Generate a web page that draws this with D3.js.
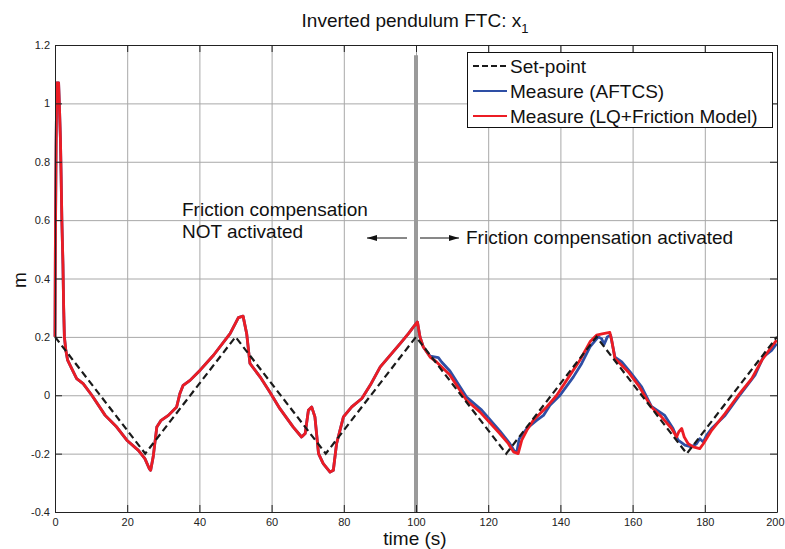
<!DOCTYPE html>
<html>
<head>
<meta charset="utf-8">
<script src="https://cdn.jsdelivr.net/npm/d3@7"></script>
<style>
  body { margin: 0; background: #fff; }
  text { font-family: "Liberation Sans", Arial, Helvetica, sans-serif; }
</style>
</head>
<body>
<div id="chart"></div>
<script>
// set-point triangle wave
var setT = [0, 25, 50, 75, 100, 125, 150, 175, 200];
var setV = [0.2, -0.2, 0.2, -0.2, 0.2, -0.2, 0.2, -0.2, 0.2];

// both measures overlap up to t = 100
var commonT = [0, 0.1, 0.3, 0.5, 1.0, 1.2, 1.5, 1.7, 1.9, 2.2, 2.4, 2.6, 3.0, 3.5, 4.4, 6.0, 7.8, 10.2, 13.9, 17.1, 19.9, 23.1, 24.9, 26.1, 26.5, 27.2, 28.2, 29.4, 31.4, 33.7, 34.6, 35.5, 37.4, 40.2, 43.9, 48.5, 50.8, 52.1, 53.1, 54.0, 56.8, 59.5, 62.3, 66.0, 68.3, 69.3, 70.2, 71.1, 72.0, 73.0, 74.3, 76.2, 77.1, 78.0, 79.9, 82.2, 85.0, 87.3, 90.1, 95.6, 97.9, 99.3, 100.4];
var commonV = [0.2, 0.5, 0.85, 1.07, 1.07, 1.0, 0.88, 0.75, 0.6, 0.45, 0.3, 0.2, 0.154, 0.12, 0.097, 0.057, 0.04, 0.0, -0.069, -0.109, -0.154, -0.189, -0.217, -0.251, -0.257, -0.211, -0.109, -0.086, -0.069, -0.04, 0.006, 0.034, 0.051, 0.086, 0.137, 0.211, 0.266, 0.271, 0.211, 0.109, 0.063, 0.011, -0.046, -0.109, -0.143, -0.131, -0.051, -0.04, -0.074, -0.2, -0.234, -0.263, -0.257, -0.166, -0.074, -0.04, -0.011, 0.034, 0.097, 0.177, 0.211, 0.234, 0.251];

// LQ + friction model after t = 100
var lqT = [101.1, 102.0, 103.9, 105.7, 109.4, 114.0, 117.7, 123.2, 125.6, 127.0, 128.3, 129.3, 130.7, 132.5, 136.2, 139.0, 141.7, 145.4, 148.2, 150.0, 151.9, 153.7, 154.2, 155.1, 156.5, 158.8, 161.6, 165.2, 168.0, 170.8, 172.2, 172.8, 173.6, 174.3, 175.4, 176.8, 178.6, 179.6, 181.9, 185.6, 189.3, 193.0, 195.8, 198.5, 199.9];
var lqV = [0.2, 0.166, 0.131, 0.114, 0.069, -0.017, -0.057, -0.131, -0.166, -0.194, -0.2, -0.154, -0.12, -0.086, -0.04, 0.0, 0.051, 0.12, 0.183, 0.206, 0.211, 0.215, 0.189, 0.126, 0.109, 0.08, 0.034, -0.04, -0.074, -0.114, -0.143, -0.125, -0.114, -0.143, -0.166, -0.177, -0.183, -0.166, -0.12, -0.063, 0.0, 0.057, 0.12, 0.166, 0.189];

// AFTCS after t = 100
var aftT = [101.1, 102.0, 103.9, 106.2, 107.1, 109.4, 114.0, 118.2, 123.2, 126.0, 127.4, 128.0, 128.6, 130.7, 133.4, 135.3, 137.1, 139.9, 143.6, 145.9, 148.2, 150.5, 151.4, 152.1, 153.0, 153.9, 155.1, 157.0, 159.3, 162.5, 165.2, 168.9, 171.2, 172.6, 174.5, 176.3, 177.7, 178.6, 179.6, 180.5, 181.9, 185.6, 189.3, 193.9, 196.2, 198.5, 199.9];
var aftV = [0.2, 0.166, 0.134, 0.129, 0.114, 0.083, -0.006, -0.051, -0.122, -0.166, -0.194, -0.189, -0.149, -0.114, -0.086, -0.069, -0.034, 0.0, 0.063, 0.109, 0.166, 0.2, 0.194, 0.174, 0.2, 0.206, 0.131, 0.114, 0.08, 0.029, -0.038, -0.069, -0.114, -0.154, -0.171, -0.177, -0.166, -0.149, -0.16, -0.137, -0.114, -0.069, -0.006, 0.069, 0.131, 0.154, 0.177];

var xTicks = [0, 20, 40, 60, 80, 100, 120, 140, 160, 180, 200];
var yTicks = [-0.4, -0.2, 0, 0.2, 0.4, 0.6, 0.8, 1, 1.2];
var switchT = 100, switchTop = 1.165;

var W = 785, H = 549;
var margin = {top: 45, right: 8, bottom: 37, left: 55},
    width = W - margin.left - margin.right,
    height = H - margin.top - margin.bottom;

var svg = d3.select("#chart").append("svg").attr("width", W).attr("height", H);
var g = svg.append("g").attr("transform", "translate(" + margin.left + "," + margin.top + ")");

var x = d3.scaleLinear().domain([0, 200]).range([0, width]);
var y = d3.scaleLinear().domain([-0.4, 1.2]).range([height, 0]);

// grid
g.append("g").attr("transform", "translate(0," + height + ")")
  .call(d3.axisBottom(x).tickValues(xTicks.slice(1, -1)).tickSize(-height).tickFormat(""))
  .call(function (s) { s.select(".domain").remove(); s.selectAll("line").attr("stroke", "#a8a8a8"); });
g.append("g")
  .call(d3.axisLeft(y).tickValues(yTicks.slice(1, -1)).tickSize(-width).tickFormat(""))
  .call(function (s) { s.select(".domain").remove(); s.selectAll("line").attr("stroke", "#a8a8a8"); });

// switch marker
g.append("line")
  .attr("x1", x(switchT)).attr("x2", x(switchT))
  .attr("y1", y(switchTop)).attr("y2", y(-0.4))
  .attr("stroke", "#9a9a9a").attr("stroke-width", 4);

var line = d3.line().x(function (d) { return x(d[0]); }).y(function (d) { return y(d[1]); });
function pts(ts, vs) { return ts.map(function (t, i) { return [t, vs[i]]; }); }

var common = pts(commonT, commonV);
g.append("path").datum(common.concat(pts(aftT, aftV)))
  .attr("d", line).attr("fill", "none").attr("stroke", "#2e4fa5").attr("stroke-width", 2.8)
  .attr("stroke-linejoin", "round");
g.append("path").datum(common.concat(pts(lqT, lqV)))
  .attr("d", line).attr("fill", "none").attr("stroke", "#ec1c24").attr("stroke-width", 2.8)
  .attr("stroke-linejoin", "round");
g.append("path").datum(pts(setT, setV))
  .attr("d", line).attr("fill", "none").attr("stroke", "#1a1a1a").attr("stroke-width", 2.2)
  .attr("stroke-dasharray", "7,4");

// axes (box with inward ticks)
function styleAxis(s) {
  s.select(".domain").attr("stroke", "#222");
  s.selectAll(".tick line").attr("stroke", "#222");
  s.selectAll("text").attr("fill", "#222").style("font-size", "11px");
}
var xAxisG = g.append("g").attr("transform", "translate(0," + height + ")")
  .call(d3.axisBottom(x).tickValues(xTicks).tickSize(-7).tickSizeOuter(0).tickPadding(6))
  .call(styleAxis);
// keep the last label inside the window
xAxisG.selectAll(".tick text").filter(function (d) { return d === 200; })
  .attr("text-anchor", "end").attr("x", 7);
g.append("g")
  .call(d3.axisLeft(y).tickValues(yTicks).tickSize(-7).tickSizeOuter(0).tickPadding(5)
    .tickFormat(function (d) { return String(+d.toFixed(1)); }))
  .call(styleAxis);
g.append("g")
  .call(d3.axisTop(x).tickValues(xTicks).tickSize(-7).tickSizeOuter(0).tickFormat(""))
  .call(styleAxis);
g.append("g").attr("transform", "translate(" + width + ",0)")
  .call(d3.axisRight(y).tickValues(yTicks).tickSize(-7).tickSizeOuter(0).tickFormat(""))
  .call(styleAxis);

// title and axis labels
var title = svg.append("text").attr("x", 415).attr("y", 27).attr("text-anchor", "middle")
  .style("font-size", "19px").attr("fill", "#111");
title.append("tspan").text("Inverted pendulum FTC: x");
title.append("tspan").attr("dy", 6).style("font-size", "13px").text("1");

svg.append("text").attr("x", 415).attr("y", 545).attr("text-anchor", "middle")
  .style("font-size", "19px").attr("fill", "#111").text("time (s)");
svg.append("text").attr("transform", "translate(26,280) rotate(-90)").attr("text-anchor", "middle")
  .style("font-size", "19px").attr("fill", "#111").text("m");

// annotations
svg.selectAll("text.note")
  .data([["Friction compensation", 182, 216], ["NOT activated", 182, 238], ["Friction compensation activated", 466, 244]])
  .enter().append("text").attr("class", "note")
  .attr("x", function (d) { return d[1]; }).attr("y", function (d) { return d[2]; })
  .style("font-size", "19px").attr("fill", "#111")
  .text(function (d) { return d[0]; });

svg.append("defs").append("marker").attr("id", "arr")
  .attr("viewBox", "0 0 10 6").attr("refX", 10).attr("refY", 3)
  .attr("markerWidth", 10).attr("markerHeight", 6).attr("markerUnits", "userSpaceOnUse")
  .attr("orient", "auto")
  .append("path").attr("d", "M0,0L10,3L0,6Z").attr("fill", "#111");
[[407, 367], [420, 459]].forEach(function (a) {
  svg.append("line").attr("x1", a[0]).attr("x2", a[1]).attr("y1", 238).attr("y2", 238)
    .attr("stroke", "#111").attr("stroke-width", 1).attr("marker-end", "url(#arr)");
});

// legend
var legend = svg.append("g");
legend.append("rect").attr("x", 467.5).attr("y", 52.5).attr("width", 305).attr("height", 75)
  .attr("fill", "#fff").attr("stroke", "#111").attr("stroke-width", 1);
var items = [
  {label: "Set-point", color: "#1a1a1a", dash: "6,3", w: 2.2},
  {label: "Measure (AFTCS)", color: "#2e4fa5", dash: null, w: 2.2},
  {label: "Measure (LQ+Friction Model)", color: "#ec1c24", dash: null, w: 2.2}
];
items.forEach(function (it, i) {
  var cy = 66 + i * 25;
  legend.append("line").attr("x1", 473).attr("x2", 507).attr("y1", cy).attr("y2", cy)
    .attr("stroke", it.color).attr("stroke-width", it.w).attr("stroke-dasharray", it.dash);
  legend.append("text").attr("x", 510).attr("y", cy + 7).style("font-size", "19px")
    .attr("fill", "#111").text(it.label);
});
</script>
</body>
</html>
